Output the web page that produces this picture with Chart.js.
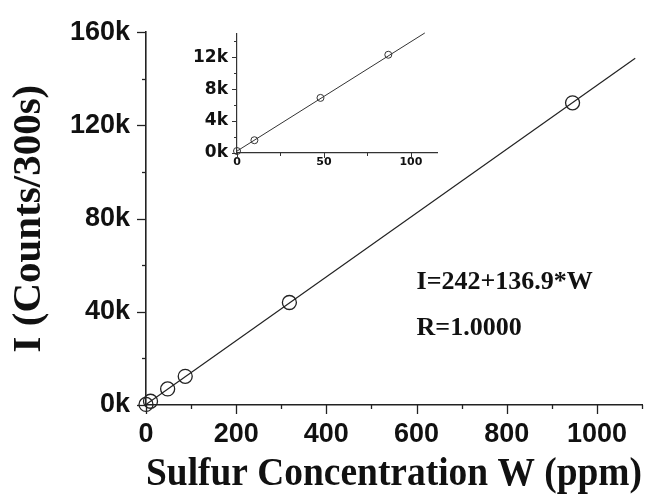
<!DOCTYPE html>
<html>
<head>
<meta charset="utf-8">
<script src="https://cdn.jsdelivr.net/npm/chart.js@4"></script>
<style>
  html, body { margin: 0; padding: 0; background: #fff; }
  #wrap { position: relative; width: 667px; height: 501px; }
  #main { position: absolute; left: 0; top: 0; }
  #inset { position: absolute; left: 180px; top: 14px; }
</style>
</head>
<body>
<div id="wrap">
  <canvas id="main" width="667" height="501"></canvas>
  <canvas id="inset" width="270" height="166"></canvas>
</div>
<script>
// calibration points: sulfur concentration (ppm) vs counts per 300 s
const concW = [0, 10, 48, 87, 318, 946]
const counts = [250, 1600, 6900, 12300, 44000, 129700]

// fitted line, as drawn
const fitW = [0, 1085]
const fitI = [242, 148780]
const insetFitW = [0, 108]
const insetFitI = [242, 15030]

// tick positions (all marks) and the ones that carry a label
const xTicksMain = [0, 100, 200, 300, 400, 500, 600, 700, 800, 900, 1000, 1100]
const yTicksMain = [0, 20000, 40000, 60000, 80000, 100000, 120000, 140000, 160000]
const xLabelsMain = [0, 200, 400, 600, 800, 1000]
const yLabelsMain = [0, 40000, 80000, 120000, 160000]
const xTicksInset = [0, 25, 50, 75, 100]
const yTicksInset = [0, 2000, 4000, 6000, 8000, 10000, 12000, 14000]
const xLabelsInset = [0, 50, 100]
const yLabelsInset = [0, 4000, 8000, 12000]

const fitText = ['I=242+136.9*W', 'R=1.0000']
const fitTextAt = [[600, 50000], [600, 30000]]

const pts = (xs, ys) => xs.map((x, i) => ({ x, y: ys[i] }))
const setTicks = list => s => { s.ticks = list.map(value => ({ value })) }

// outward tick marks, long where a label is shown
const tickMarks = {
  id: 'tickMarks',
  afterDraw(chart, args, opts) {
    const { ctx } = chart
    const xs = chart.scales.x
    const ys = chart.scales.y
    ctx.save()
    ctx.strokeStyle = opts.color
    ctx.lineWidth = opts.width
    xs.ticks.forEach(t => {
      const px = Math.round(xs.getPixelForValue(t.value)) + 0.5
      const len = t.label !== '' ? opts.major : opts.minor
      ctx.beginPath()
      ctx.moveTo(px, xs.top)
      ctx.lineTo(px, xs.top + len)
      ctx.stroke()
    })
    ys.ticks.forEach(t => {
      const py = Math.round(ys.getPixelForValue(t.value)) + 0.5
      const len = t.label !== '' ? opts.major : opts.minor
      ctx.beginPath()
      ctx.moveTo(ys.right, py)
      ctx.lineTo(ys.right - len, py)
      ctx.stroke()
    })
    ctx.restore()
  }
}

const fitLabel = {
  id: 'fitLabel',
  afterDatasetsDraw(chart) {
    const { ctx } = chart
    ctx.save()
    ctx.fillStyle = '#111'
    ctx.font = 'bold 26px "Liberation Serif", serif'
    ctx.textBaseline = 'alphabetic'
    fitText.forEach((s, i) => {
      const [vx, vy] = fitTextAt[i]
      ctx.fillText(s, chart.scales.x.getPixelForValue(vx), chart.scales.y.getPixelForValue(vy))
    })
    ctx.restore()
  }
}

new Chart(document.getElementById('main'), {
  type: 'scatter',
  data: {
    datasets: [
      {
        type: 'line',
        data: pts(fitW, fitI),
        borderColor: '#222',
        borderWidth: 1.2,
        pointRadius: 0,
        clip: false,
      },
      {
        data: pts(concW, counts),
        pointRadius: 7,
        pointBorderWidth: 1.3,
        pointBorderColor: '#222',
        pointBackgroundColor: 'rgba(0,0,0,0)',
        clip: false,
      },
    ],
  },
  options: {
    responsive: false,
    animation: false,
    devicePixelRatio: 1,
    layout: { padding: { top: 26, right: 25, left: 0, bottom: 0 } },
    plugins: {
      legend: { display: false },
      tooltip: { enabled: false },
      tickMarks: { color: '#222', width: 1.3, major: 9, minor: 4 },
    },
    scales: {
      x: {
        type: 'linear',
        min: 0,
        max: 1100,
        afterBuildTicks: setTicks(xTicksMain),
        afterFit: s => { s.height = 96 },
        grid: { display: false, drawTicks: false },
        border: { display: true, color: '#222', width: 1.6 },
        ticks: {
          autoSkip: false,
          maxRotation: 0,
          padding: 13,
          color: '#111',
          font: { family: '"Liberation Sans", Arial, sans-serif', weight: 'bold', size: 27 },
          callback: v => (xLabelsMain.includes(v) ? String(v) : ''),
        },
        title: {
          display: true,
          text: 'Sulfur Concentration W (ppm)',
          color: '#111',
          padding: { top: 0, bottom: 3 },
          font: { family: '"Liberation Serif", "Times New Roman", serif', weight: 'bold', size: 39, lineHeight: 1.2 },
        },
      },
      y: {
        type: 'linear',
        min: 0,
        max: 160000,
        afterBuildTicks: setTicks(yTicksMain),
        afterFit: s => { s.width = 146 },
        grid: { display: false, drawTicks: false },
        border: { display: true, color: '#222', width: 1.6 },
        ticks: {
          autoSkip: false,
          padding: 16,
          color: '#111',
          font: { family: '"Liberation Sans", Arial, sans-serif', weight: 'bold', size: 27 },
          callback: v => (yLabelsMain.includes(v) ? v / 1000 + 'k' : ''),
        },
        title: {
          display: true,
          text: 'I (Counts/300s)',
          color: '#111',
          padding: { top: 5, bottom: 0 },
          font: { family: '"Liberation Serif", "Times New Roman", serif', weight: 'bold', size: 41, lineHeight: 1.2 },
        },
      },
    },
  },
  plugins: [tickMarks, fitLabel],
})

new Chart(document.getElementById('inset'), {
  type: 'scatter',
  data: {
    datasets: [
      {
        type: 'line',
        data: pts(insetFitW, insetFitI),
        borderColor: '#333',
        borderWidth: 1,
        pointRadius: 0,
        clip: false,
      },
      {
        data: pts(concW.slice(0, 4), counts.slice(0, 4)),
        pointRadius: 3.5,
        pointBorderWidth: 1,
        pointBorderColor: '#333',
        pointBackgroundColor: 'rgba(0,0,0,0)',
        clip: false,
      },
    ],
  },
  options: {
    responsive: false,
    animation: false,
    devicePixelRatio: 1,
    layout: { padding: { top: 12, right: 13, left: 0, bottom: 0 } },
    plugins: {
      legend: { display: false },
      tooltip: { enabled: false },
      tickMarks: { color: '#333', width: 1, major: 5, minor: 3 },
    },
    scales: {
      x: {
        type: 'linear',
        min: 0,
        max: 115,
        afterBuildTicks: setTicks(xTicksInset),
        afterFit: s => { s.height = 27 },
        grid: { display: false, drawTicks: false },
        border: { display: true, color: '#333', width: 1.2 },
        ticks: {
          autoSkip: false,
          maxRotation: 0,
          padding: 3,
          color: '#111',
          font: { family: '"DejaVu Sans", sans-serif', weight: 'bold', size: 11 },
          callback: v => (xLabelsInset.includes(v) ? String(v) : ''),
        },
      },
      y: {
        type: 'linear',
        min: 0,
        max: 15000,
        afterBuildTicks: setTicks(yTicksInset),
        afterFit: s => { s.width = 57 },
        grid: { display: false, drawTicks: false },
        border: { display: true, color: '#333', width: 1.2 },
        ticks: {
          autoSkip: false,
          padding: 9,
          color: '#111',
          font: { family: '"DejaVu Sans", sans-serif', weight: 'bold', size: 17 },
          callback: v => (yLabelsInset.includes(v) ? v / 1000 + 'k' : ''),
        },
      },
    },
  },
  plugins: [tickMarks],
})
</script>
</body>
</html>
